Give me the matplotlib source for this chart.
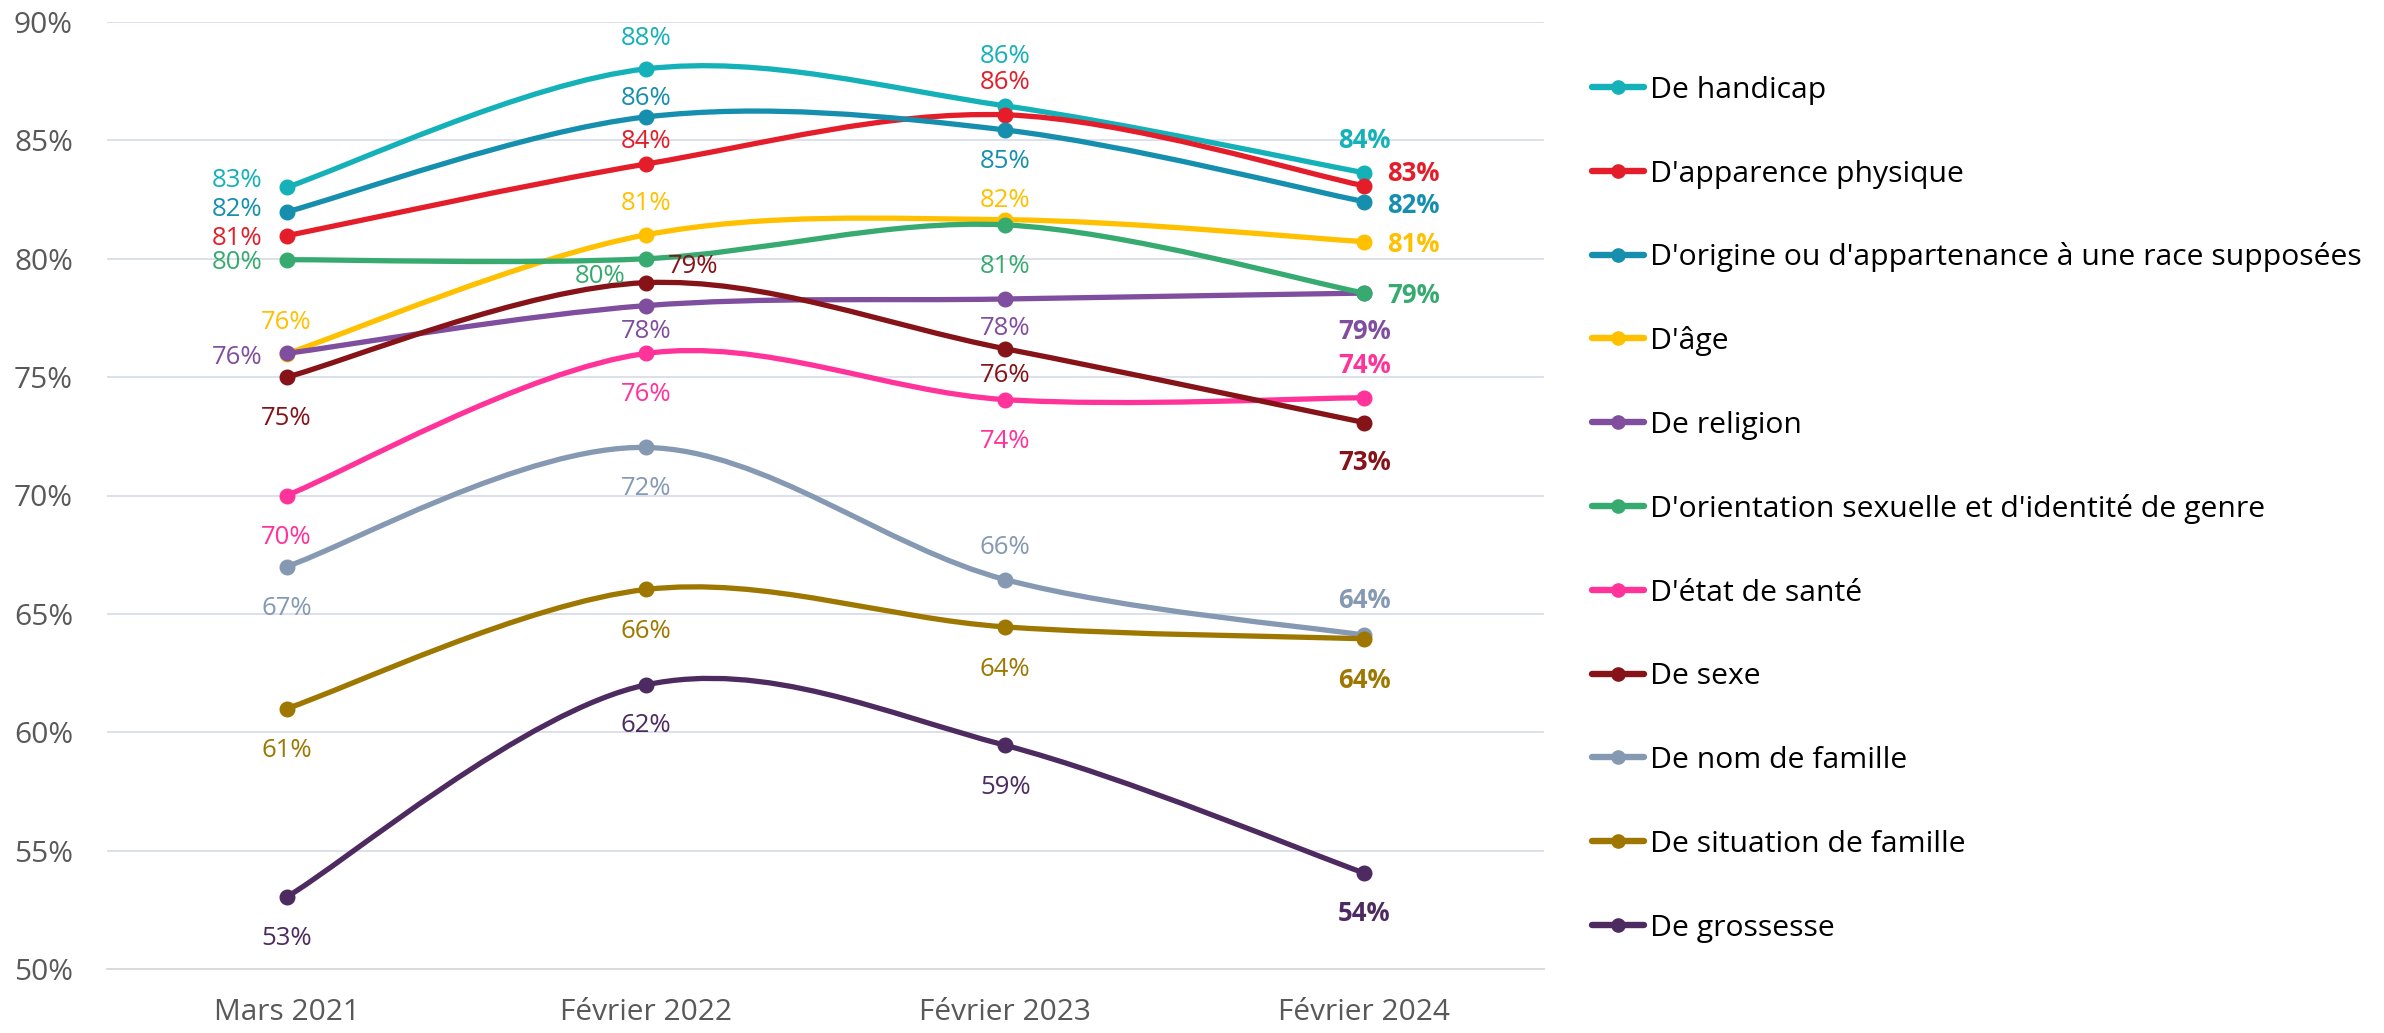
import matplotlib
matplotlib.use("Agg")
import matplotlib.pyplot as plt
from matplotlib.path import Path
from matplotlib.patches import PathPatch
from matplotlib.lines import Line2D
import numpy as np

plt.rcParams['font.family'] = ['Open Sans', 'DejaVu Sans']

# ---------------- data ----------------
periods = ['Mars 2021', 'Février 2022', 'Février 2023', 'Février 2024']

series_names = [
    "De handicap",
    "D'apparence physique",
    "D'origine ou d'appartenance à une race supposées",
    "D'âge",
    "De religion",
    "D'orientation sexuelle et d'identité de genre",
    "D'état de santé",
    "De sexe",
    "De nom de famille",
    "De situation de famille",
    "De grossesse",
]

handicap    = [83.02, 88.02, 86.46, 83.63]
apparence   = [80.97, 84.00, 86.08, 83.08]
origine     = [81.98, 85.99, 85.44, 82.41]
age         = [75.99, 81.01, 81.65, 80.72]
religion    = [76.00, 78.02, 78.30, 78.55]
orientation = [79.96, 80.00, 81.43, 78.55]
sante       = [70.00, 76.00, 74.05, 74.13]
sexe        = [75.00, 78.99, 76.20, 73.08]
nom         = [67.00, 72.03, 66.45, 64.10]
situation   = [61.00, 66.03, 64.45, 63.95]
grossesse   = [53.04, 62.00, 59.45, 54.05]

series_values = [handicap, apparence, origine, age, religion, orientation,
                 sante, sexe, nom, situation, grossesse]

colors = ['#14B1B8', '#E31E2A', '#168FAF', '#FFC000', '#7F4E9F', '#37AB6F',
          '#FF3399', '#851318', '#8599B3', '#9E7700', '#4D2B60']

# label placement (dx px, dy px of visual centre, horizontal alignment)
placements = [
    [(-24, 9, 'right'), (0, 33, 'center'), (0, 52, 'center'), (0, 34, 'center')],
    [(-24, 0, 'right'), (0, 25, 'center'), (0, 35, 'center'), (23, 14, 'left')],
    [(-24, 5, 'right'), (0, 21, 'center'), (0, -29, 'center'), (23, -2, 'left')],
    [(0, 34, 'center'), (0, 34, 'center'), (0, 22, 'center'), (23, -1, 'left')],
    [(-24, -1, 'right'), (0, -23, 'center'), (0, -27, 'center'), (0, -37, 'center')],
    [(-24, 0, 'right'), (-46, -15, 'center'), (0, -39, 'center'), (23, -1, 'left')],
    [(0, -39, 'center'), (0, -38, 'center'), (0, -39, 'center'), (0, 34, 'center')],
    [(0, -39, 'center'), (47, 19, 'center'), (0, -24, 'center'), (0, -38, 'center')],
    [(0, -39, 'center'), (0, -38, 'center'), (0, 35, 'center'), (0, 36, 'center')],
    [(0, -39, 'center'), (0, -39, 'center'), (0, -40, 'center'), (0, -40, 'center')],
    [(0, -39, 'center'), (0, -38, 'center'), (0, -40, 'center'), (0, -39, 'center')],
]

W, H = 2384, 1033
DPI = 100
fig = plt.figure(figsize=(W / DPI, H / DPI), dpi=DPI)
ax = fig.add_axes([107 / W, 64 / H, 1437 / W, 947 / H])

x = np.arange(len(periods))


def smooth_path(xs, ys):
    pts = np.column_stack([xs, ys]).astype(float)
    n = len(pts)
    verts = [pts[0]]
    codes = [Path.MOVETO]
    for i in range(n - 1):
        p0 = pts[i - 1] if i > 0 else pts[i]
        p1 = pts[i]
        p2 = pts[i + 1]
        p3 = pts[i + 2] if i + 2 < n else pts[i + 1]
        c1 = p1 + (p2 - p0) / 6.0
        c2 = p2 - (p3 - p1) / 6.0
        verts += [c1, c2, p2]
        codes += [Path.CURVE4] * 3
    return Path(verts, codes)


LW = 3.8
for k, (vals, col) in enumerate(zip(series_values, colors)):
    patch = PathPatch(smooth_path(x, vals), fill=False, edgecolor=col, lw=LW,
                      capstyle='round', joinstyle='round', zorder=3 + k * 0.01)
    ax.add_patch(patch)
    ax.plot(x, vals, 'o', color=col, ms=10.5, mec=col, zorder=3.005 + k * 0.01)

# data labels
LABEL_FS = 18.5
cap_px = 0.714 * LABEL_FS / 72 * DPI
for k, (vals, col) in enumerate(zip(series_values, colors)):
    for i, v in enumerate(vals):
        dx, dy, ha = placements[k][i]
        last = (i == len(vals) - 1)
        ax.annotate(f"{v:.0f}%", xy=(x[i], v), xytext=(dx, dy - cap_px / 2),
                    textcoords='offset pixels', ha=ha, va='baseline',
                    fontsize=LABEL_FS, color=col,
                    fontweight='bold' if last else 'normal', zorder=10)

ax.set_xlim(-0.5, len(periods) - 0.5)
ax.set_ylim(50, 90)
ax.set_yticks(np.arange(50, 91, 5))
ax.set_yticklabels([f"{t}%" for t in range(50, 91, 5)])
ax.set_xticks(x)
ax.set_xticklabels(periods)
ax.tick_params(axis='both', length=0, labelsize=21.5, labelcolor='#595959')
ax.tick_params(axis='y', pad=24.5)
ax.tick_params(axis='x', pad=21)
ax.yaxis.grid(True, color='#D9DDE8', lw=1.3, zorder=0)
ax.set_axisbelow(True)
for s in ['top', 'right', 'left']:
    ax.spines[s].set_visible(False)
ax.spines['bottom'].set_color('#D9D9D9')
ax.spines['bottom'].set_linewidth(1.3)
ax.spines['bottom'].set_zorder(1)

# legend (manual, in figure coordinates)
LEG_FS = 21.7
leg_cap = 0.714 * LEG_FS / 72 * DPI
leg_y0, leg_dy = 87, 83.8
for i, (name, col) in enumerate(zip(series_names, colors)):
    yc_px = leg_y0 + i * leg_dy
    yc = 1 - yc_px / H
    fig.add_artist(Line2D([1592 / W, 1644 / W], [yc, yc], color=col, lw=4.6,
                          solid_capstyle='round'))
    fig.add_artist(Line2D([1618 / W], [yc], marker='o', ms=9.5, color=col, lw=0))
    fig.text(1650 / W, 1 - (yc_px + leg_cap / 2) / H, name, fontsize=LEG_FS,
             va='baseline', ha='left', color='black')

fig.savefig('out.png', dpi=DPI)
